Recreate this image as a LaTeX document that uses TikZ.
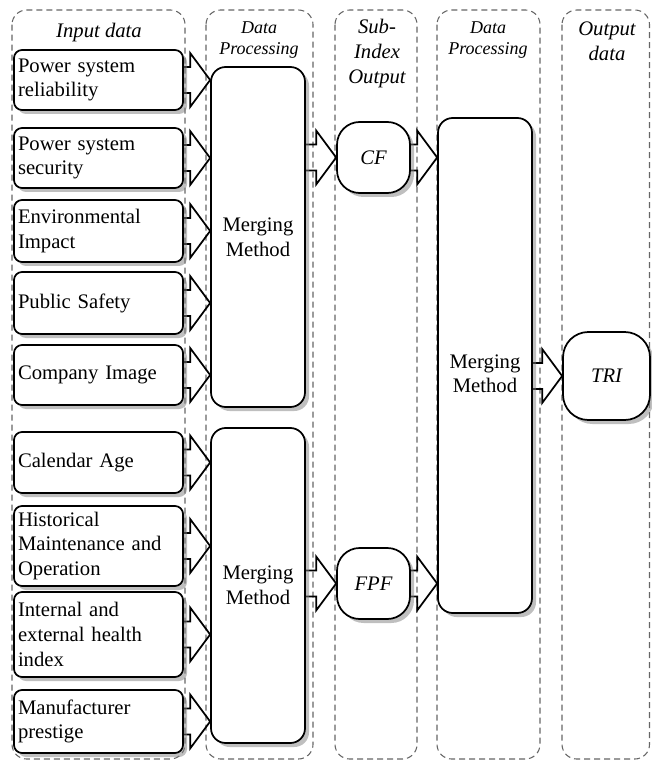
\documentclass[tikz,border=0pt]{standalone}
\usepackage{fontspec}
\setmainfont{Liberation Serif}
\usepackage{tikz}
\usetikzlibrary{calc,shadows}
\pgfdeclarelayer{frames}
\pgfdeclarelayer{arrows}
\pgfsetlayers{frames,arrows,main}
\newcommand{\fatarrow}[2]{%
\draw[arrowline] let \p1=#1, \p2=#2 in
  (\x1,\y1+9.75pt) -- (\x2-15pt,\y1+9.75pt) -- (\x2-15pt,\y1+20.25pt) -- (\x2,\y1)
  -- (\x2-15pt,\y1-20.25pt) -- (\x2-15pt,\y1-9.75pt) -- (\x1,\y1-9.75pt);
}
\tikzset{
  frame/.style={draw=black!60, line width=0.8pt, dash pattern=on 4.5pt off 3pt, rounded corners=11pt},
  coltitle/.style={font=\itshape\fontsize{15.5}{18.5}\selectfont, align=center, inner sep=0pt},
  smalltitle/.style={coltitle, font=\itshape\fontsize{13.5}{15.75}\selectfont},
  shadowbox/.style={draw, line width=1.3pt, fill=white, drop shadow={shadow xshift=3pt, shadow yshift=-3pt, fill=black!50}},
  inbox/.style={shadowbox, rounded corners=6pt, text width=120.75pt, inner xsep=3pt, align=left,
    minimum width=126.75pt, font=\fontsize{15.5}{18.5}\selectfont},
  merge/.style={shadowbox, rounded corners=11pt, minimum width=70.5pt, align=center,
    font=\fontsize{15.5}{18.5}\selectfont},
  idx/.style={shadowbox, rounded corners=17pt, font=\itshape\fontsize{15.5}{18.5}\selectfont},
  arrowline/.style={draw, line width=1.3pt, line join=miter}
}
\begin{document}
\begin{tikzpicture}[x=0.75pt,y=-0.75pt]
\useasboundingbox (0,0) rectangle (651,762);
\begin{pgfonlayer}{frames}
\draw[frame] (12,10) rectangle (185,759);
\draw[frame] (206,10) rectangle (313,759);
\draw[frame] (335,10) rectangle (417,759);
\draw[frame] (437,10) rectangle (540,759);
\draw[frame] (562,10) rectangle (649.5,759);
\end{pgfonlayer}
\node[coltitle] (tin) at (99,33) {Input data};
\node[smalltitle] (tdp1) at (259,40) {Data\\Processing};
\node[coltitle] (tsub) at (377,53.5) {Sub-\\Index\\Output};
\node[smalltitle] (tdp2) at (488,40) {Data\\Processing};
\node[coltitle] (tout) at (607,41) {Output\\data};
\foreach \b/\y/\h/\t in {in1/80/60/{Power system\\reliability},
  in2/158/60/{Power system\\security},
  in3/231/62/{Environmental\\Impact},
  in4/303/62/{Public Safety},
  in5/375/60/{Company Image},
  in6/462.5/61/{Calendar Age},
  in7/546/80/{Historical\\Maintenance and\\Operation},
  in8/634.5/85/{Internal and\\external health\\index},
  in9/721.5/63/{Manufacturer\\prestige}}{
\node[inbox, minimum height=\h*0.75pt] (\b) at (98.5,\y) {\t};
}
\node[merge, minimum height=255pt] (mm1) at (258,237) {Merging\\Method};
\node[merge, minimum height=236.25pt] (mm2) at (258,585.5) {Merging\\Method};
\node[merge, minimum height=371.25pt] (mm3) at (485,365.5) {\\[4pt]Merging\\Method};
\node[idx, minimum width=54.75pt, minimum height=53.25pt] (cf) at (373.5,157.5) {CF};
\node[idx, minimum width=54.75pt, minimum height=53.25pt] (fpf) at (373.5,583.5) {FPF};
\node[idx, minimum width=65.25pt, minimum height=66pt, rounded corners=19pt] (tri) at (606.5,376) {TRI};
\begin{pgfonlayer}{arrows}
\foreach \b in {in1,in2,in3,in4,in5}{
\fatarrow{(\b.east)}{(mm1.west)}
}
\foreach \b in {in6,in7,in8,in9}{
\fatarrow{(\b.east)}{(mm2.west)}
}
\fatarrow{(mm1.east |- cf.west)}{(cf.west)}
\fatarrow{(mm2.east |- fpf.west)}{(fpf.west)}
\fatarrow{(cf.east)}{(mm3.west)}
\fatarrow{(fpf.east)}{(mm3.west)}
\fatarrow{(mm3.east |- tri.west)}{(tri.west)}
\end{pgfonlayer}
\end{tikzpicture}
\end{document}
